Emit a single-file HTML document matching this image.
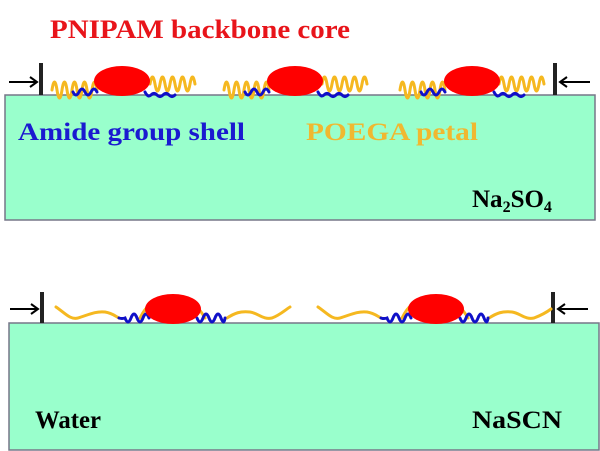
<!DOCTYPE html>
<html><head><meta charset="utf-8"><style>
html,body{margin:0;padding:0;background:#fff;}
svg{display:block;}
text{font-family:"Liberation Serif",serif;font-weight:bold;}
</style></head><body>
<svg width="600" height="451" viewBox="0 0 600 451" xmlns="http://www.w3.org/2000/svg">
<rect x="5" y="95" width="590" height="125" fill="#99ffcc" stroke="#778" stroke-width="1.5"/>
<rect x="9" y="323" width="590" height="127" fill="#99ffcc" stroke="#778" stroke-width="1.5"/>
<text x="50" y="38" font-size="26" fill="#e8141a" textLength="300" lengthAdjust="spacingAndGlyphs">PNIPAM backbone core</text>
<text x="18" y="140" font-size="25" fill="#1a1ad0" textLength="227" lengthAdjust="spacingAndGlyphs">Amide group shell</text>
<text x="306" y="140" font-size="25" fill="#f0b830" textLength="172" lengthAdjust="spacingAndGlyphs">POEGA petal</text>
<text x="472" y="207" font-size="25" fill="#000">Na<tspan font-size="16" dy="5">2</tspan><tspan dy="-5">SO</tspan><tspan font-size="16" dy="5">4</tspan></text>
<text x="35" y="428" font-size="25" fill="#000" textLength="66" lengthAdjust="spacingAndGlyphs">Water</text>
<text x="472" y="428" font-size="25" fill="#000" textLength="90" lengthAdjust="spacingAndGlyphs">NaSCN</text>
<g stroke="#000" fill="none">
<line x1="41" y1="63" x2="41" y2="95" stroke-width="4" stroke="#222"/>
<line x1="9" y1="82" x2="36" y2="82" stroke-width="2"/><path d="M30 77 L37 82 L30 87" stroke-width="2"/>
<line x1="555" y1="63" x2="555" y2="95" stroke-width="4" stroke="#222"/>
<line x1="560" y1="82" x2="590" y2="82" stroke-width="2"/><path d="M567 77 L560 82 L567 87" stroke-width="2"/>
<line x1="42" y1="292" x2="42" y2="323" stroke-width="4" stroke="#222"/>
<line x1="10" y1="309" x2="37" y2="309" stroke-width="2"/><path d="M31 304 L38 309 L31 314" stroke-width="2"/>
<line x1="553" y1="292" x2="553" y2="323" stroke-width="4" stroke="#222"/>
<line x1="558" y1="309" x2="588" y2="309" stroke-width="2"/><path d="M565 304 L558 309 L565 314" stroke-width="2"/>
</g>
<g fill="none" stroke-width="3" stroke-linecap="round">
<g stroke="#f5b820">
<path d="M52 90 q2.5 -16 5 0 t5 0 t5 0 t5 0 t5 0 t5 0 t5 0 t5 0 t5 0"/>
<path d="M150 84 q2.5 -14 5 0 t5 0 t5 0 t5 0 t5 0 t5 0 t5 0 t5 0 t5 0"/>
<path d="M224 90 q2.5 -16 5 0 t5 0 t5 0 t5 0 t5 0 t5 0 t5 0 t5 0 t5 0"/>
<path d="M322 84 q2.5 -14 5 0 t5 0 t5 0 t5 0 t5 0 t5 0 t5 0 t5 0 t5 0"/>
<path d="M400 90 q2.5 -16 5 0 t5 0 t5 0 t5 0 t5 0 t5 0 t5 0 t5 0 t5 0"/>
<path d="M499 84 q2.5 -14 5 0 t5 0 t5 0 t5 0 t5 0 t5 0 t5 0 t5 0 t5 0"/>
</g>
<g stroke="#1010c8">
<path d="M73 92 q3 6 6 0 t6 0 t6 0 t6 0"/>
<path d="M145 92 q3 6 6 3 t6 0 t6 0 t6 0 t6 0"/>
<path d="M245 92 q3 6 6 0 t6 0 t6 0 t6 0"/>
<path d="M318 92 q3 6 6 3 t6 0 t6 0 t6 0 t6 0"/>
<path d="M421 92 q3 6 6 0 t6 0 t6 0 t6 0"/>
<path d="M494 92 q3 6 6 3 t6 0 t6 0 t6 0 t6 0"/>
</g>
<g stroke="#f5b820">
<path d="M56 307 C65 313 70 320 78 318 C88 315 95 311 105 312 C112 313 115 316 119 318"/>
<path d="M140 318 Q145 308 150 305"/>
<path d="M196 306 Q201 311 205 318"/>
<path d="M227 318 C235 313 240 311 250 312 C258 313 263 320 272 318 C280 315 285 310 290 307"/>
<path d="M318 307 C327 313 332 320 340 318 C350 315 357 311 367 312 C374 313 377 316 381 318"/>
<path d="M402 318 Q407 308 412 305"/>
<path d="M459 306 Q464 311 468 318"/>
<path d="M489 318 C497 313 502 311 512 312 C520 313 525 320 534 318 C542 315 547 312 551 309"/>
</g>
<g stroke="#1010c8">
<path d="M119 318 q3 1 6 0 q3 8 6 0 t6 0 t6 0 t6 0"/>
<path d="M197 318 q3 8 6 0 t6 0 t6 0 t6 0 t4 0"/>
<path d="M381 318 q3 1 6 0 q3 8 6 0 t6 0 t6 0 t6 0"/>
<path d="M460 318 q3 8 6 0 t6 0 t6 0 t6 0 t4 0"/>
</g>
</g>
<g fill="#ff0000">
<ellipse cx="122" cy="81" rx="28" ry="15"/>
<ellipse cx="295" cy="81" rx="28" ry="15"/>
<ellipse cx="472" cy="81" rx="28" ry="15"/>
<ellipse cx="173" cy="309" rx="28" ry="15"/>
<ellipse cx="436" cy="309" rx="28" ry="15"/>
</g>
</svg>
</body></html>
